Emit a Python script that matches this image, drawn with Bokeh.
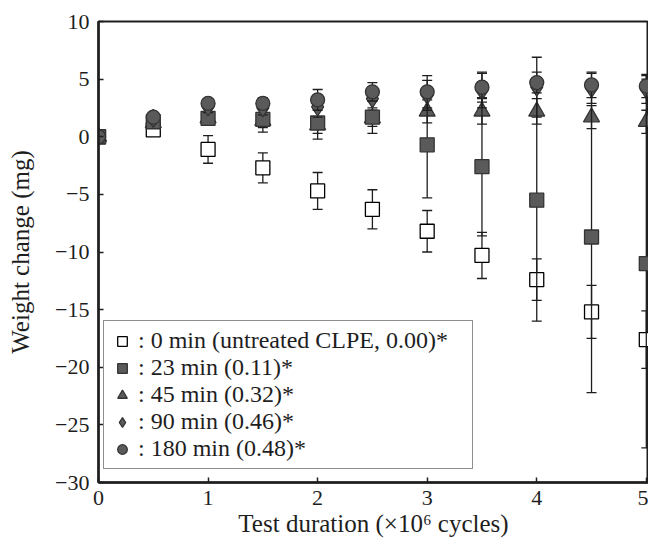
from bokeh.plotting import figure
from bokeh.models import ColumnDataSource, Legend, LegendItem, CustomJSTickFormatter, Range1d, FixedTicker
from bokeh.embed import file_html
from bokeh.resources import INLINE

# ---- data ----
cycles = [0, 0.5, 1, 1.5, 2, 2.5, 3, 3.5, 4, 4.5, 5]

m0 = [0, 0.6, -1.1, -2.7, -4.7, -6.3, -8.2, -10.3, -12.4, -15.2, -17.6]
m0_err = [0, 0.3, 1.2, 1.3, 1.6, 1.7, 1.8, 2.0, 1.8, 2.3, 2.5]

m23 = [0, 1.3, 1.6, 1.5, 1.2, 1.7, -0.7, -2.6, -5.5, -8.7, -11.0]
m23_err = [0, 0.3, 0.5, 1.1, 1.4, 1.4, 4.6, 6.0, 10.5, 13.5, 16.0]

m45 = [0, 1.2, 1.6, 1.4, 1.0, 1.6, 2.2, 2.2, 2.2, 1.7, 1.3]
m45_err = [0, 0.3, 0.5, 0.6, 0.7, 0.7, 1.0, 1.1, 1.1, 1.0, 1.0]

m90 = [0, 1.6, 2.6, 2.5, 2.6, 3.3, 3.6, 4.0, 4.3, 4.2, 4.1]
m90_err = [0, 0.3, 0.5, 0.6, 0.9, 0.8, 1.3, 1.5, 2.6, 1.3, 1.2]

m180 = [0, 1.7, 2.9, 2.9, 3.2, 3.9, 3.9, 4.3, 4.7, 4.5, 4.4]
m180_err = [0, 0.3, 0.4, 0.5, 0.9, 0.8, 1.4, 1.3, 0.9, 1.1, 1.0]

labels = [
    ": 0 min (untreated CLPE, 0.00)*",
    ": 23 min (0.11)*",
    ": 45 min (0.32)*",
    ": 90 min (0.46)*",
    ": 180 min (0.48)*",
]

x_ticks = [0, 1, 2, 3, 4, 5]
y_ticks = [10, 5, 0, -5, -10, -15, -20, -25, -30]

FONT = "Liberation Serif"
INK = "#1e1e1e"

p = figure(width=648, height=539, output_backend="svg", toolbar_location=None,
           x_range=Range1d(0, 5.02), y_range=Range1d(-30, 10),
           min_border_left=98, min_border_right=0, min_border_top=21, min_border_bottom=56)
p.grid.visible = False
p.background_fill_color = "white"
p.outline_line_color = INK
p.outline_line_width = 2

fmt = CustomJSTickFormatter(code="return tick < 0 ? '\u2212' + Math.abs(tick) : tick.toString();")
for ax, ticks in ((p.xaxis[0], x_ticks), (p.yaxis[0], y_ticks)):
    ax.ticker = FixedTicker(ticks=ticks)
    ax.formatter = fmt
    ax.major_tick_in = 5
    ax.major_tick_out = 0
    ax.minor_tick_line_color = None
    ax.axis_line_width = 2.5
    ax.axis_line_color = INK
    ax.major_tick_line_width = 1.5
    ax.major_tick_line_color = INK
    ax.major_label_text_font = FONT
    ax.major_label_text_font_size = "22px"
    ax.major_label_text_color = INK
    ax.axis_label_text_font = FONT
    ax.axis_label_text_font_size = "25px"
    ax.axis_label_text_font_style = "normal"
    ax.axis_label_text_color = INK

p.xaxis.axis_label = "Test duration (\u00d710\u2076 cycles)"
p.yaxis.axis_label = "Weight change (mg)"
p.xaxis.major_label_standoff = 8
p.yaxis.major_label_standoff = 9
p.xaxis.axis_label_standoff = 2
p.yaxis.axis_label_standoff = 18

series = [
    (m0, m0_err, "square", 14, "white", "black"),
    (m45, m45_err, "triangle", 16, "#5a5a5a", "#333333"),
    (m23, m23_err, "square", 14, "#5a5a5a", "#333333"),
    (m90, m90_err, "diamond", 18, "#5a5a5a", "#333333"),
    (m180, m180_err, "circle", 14, "#5a5a5a", "#333333"),
]
legend_order = [0, 2, 1, 3, 4]

renderers = []
for vals, errs, marker, size, fill, line in series:
    src = ColumnDataSource(dict(
        x=cycles, y=vals,
        lo=[v - e for v, e in zip(vals, errs)],
        hi=[v + e for v, e in zip(vals, errs)],
    ))
    p.segment(x0="x", y0="lo", x1="x", y1="hi", source=src, line_color=INK, line_width=1.3)
    p.scatter(x="x", y="lo", source=src, marker="dash", size=10, line_color=INK, line_width=1.3)
    p.scatter(x="x", y="hi", source=src, marker="dash", size=10, line_color=INK, line_width=1.3)
    r = p.scatter(x="x", y="y", source=src, marker=marker, size=size,
                  fill_color=fill, line_color=line, line_width=1.3)
    renderers.append(r)

items = [LegendItem(label=labels[i], renderers=[renderers[legend_order[i]]]) for i in range(5)]
legend = Legend(items=items, location=(5, 13))
legend.label_text_font = FONT
legend.label_text_font_size = "24px"
legend.label_text_color = INK
legend.glyph_width = 24
legend.glyph_height = 26
legend.label_height = 26
legend.label_width = 328
legend.label_standoff = 4
legend.padding = 6
legend.spacing = 0
legend.margin = 0
legend.border_line_color = INK
legend.border_line_width = 1.5
legend.background_fill_alpha = 1
p.add_layout(legend, "center")

open("out.html", "w").write(file_html(p, INLINE))
